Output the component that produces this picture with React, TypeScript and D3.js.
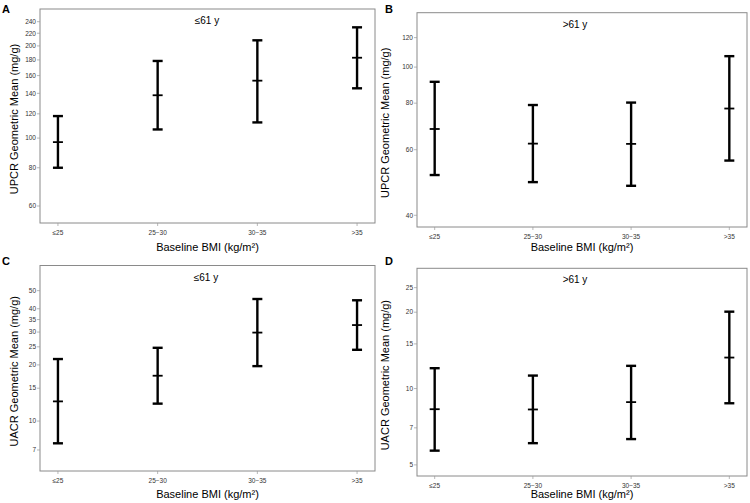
import React from "react";
import * as d3 from "d3";

const categories = ["≤25", "25−30", "30−35", ">35"];

// Panel A: UPCR, ≤61 y
const upcrYoungMean = [97, 138, 154, 183];
const upcrYoungLow = [80, 106.7, 112.5, 145.4];
const upcrYoungHigh = [118, 178.6, 208.6, 230];
const upcrYoungTicks = [60, 80, 100, 120, 140, 160, 180, 200, 220, 240];

// Panel B: UPCR, >61 y
const upcrOldMean = [68.2, 62.3, 62.2, 77.4];
const upcrOldLow = [51.3, 49.1, 48.0, 56.1];
const upcrOldHigh = [91.3, 79.1, 80.3, 107];
const upcrOldTicks = [40, 60, 80, 100, 120];

// Panel C: UACR, ≤61 y
const uacrYoungMean = [12.75, 17.5, 29.8, 32.7];
const uacrYoungLow = [7.6, 12.4, 19.7, 24.1];
const uacrYoungHigh = [21.5, 24.7, 45.1, 44.4];
const uacrYoungTicks = [7, 10, 15, 20, 25, 30, 35, 40, 50];

// Panel D: UACR, >61 y
const uacrOldMean = [8.29, 8.27, 8.84, 13.25];
const uacrOldLow = [5.69, 6.09, 6.32, 8.75];
const uacrOldHigh = [12.03, 11.25, 12.29, 20.1];
const uacrOldTicks = [5, 7, 10, 15, 20, 25];

const panelLabels = ["A", "B", "C", "D"];
const panelTitles = ["≤61 y", ">61 y", "≤61 y", ">61 y"];
const yTitles = [
  "UPCR Geometric Mean (mg/g)",
  "UPCR Geometric Mean (mg/g)",
  "UACR Geometric Mean (mg/g)",
  "UACR Geometric Mean (mg/g)",
];
const xTitle = "Baseline BMI (kg/m²)";

const FONT = "'Liberation Sans', Arial, Helvetica, sans-serif";

type PanelProps = {
  box: { x0: number; x1: number; y0: number; y1: number };
  domain: [number, number];
  ticks: number[];
  mean: number[];
  low: number[];
  high: number[];
  label: string;
  labelPos: [number, number];
  title: string;
  titleX: number;
  yTitle: string;
  yTitleX: number;
  xTitleY: number;
};

function Panel(p: PanelProps) {
  const { box } = p;
  const x = d3
    .scalePoint<string>()
    .domain(categories)
    .range([box.x0, box.x1])
    .padding(0.18);
  const y = d3.scaleLog().domain(p.domain).range([box.y1, box.y0]);
  const cap = 5;
  const cy = (box.y0 + box.y1) / 2;
  return (
    <g>
      <text
        x={p.labelPos[0]}
        y={p.labelPos[1]}
        fontFamily={FONT}
        fontWeight="bold"
        fontSize={11}
        fill="#000"
      >
        {p.label}
      </text>
      <rect
        x={box.x0}
        y={box.y0}
        width={box.x1 - box.x0}
        height={box.y1 - box.y0}
        fill="#fff"
        stroke="#8a8a8a"
        strokeWidth={1}
      />
      <text
        x={p.titleX}
        y={box.y0 + 15}
        textAnchor="middle"
        fontFamily={FONT}
        fontSize={10}
        fill="#000"
      >
        {p.title}
      </text>
      {p.ticks.map((t) => (
        <g key={t}>
          <line
            x1={box.x0 - 3}
            x2={box.x0}
            y1={y(t)}
            y2={y(t)}
            stroke="#999"
            strokeWidth={0.7}
          />
          <text
            x={box.x0 - 4}
            y={y(t)}
            dy="0.35em"
            textAnchor="end"
            fontFamily={FONT}
            fontSize={6.5}
            fill="#333"
          >
            {t}
          </text>
        </g>
      ))}
      {categories.map((c) => (
        <g key={c}>
          <line
            x1={x(c)}
            x2={x(c)}
            y1={box.y1}
            y2={box.y1 + 3}
            stroke="#999"
            strokeWidth={0.7}
          />
          <text
            x={x(c)}
            y={box.y1 + 12}
            textAnchor="middle"
            fontFamily={FONT}
            fontSize={6.5}
            fill="#333"
          >
            {c}
          </text>
        </g>
      ))}
      {categories.map((c, i) => {
        const cx = x(c) as number;
        return (
          <g key={"e" + c} stroke="#000" strokeWidth={2.4}>
            <line x1={cx} x2={cx} y1={y(p.low[i])} y2={y(p.high[i])} />
            <line x1={cx - cap} x2={cx + cap} y1={y(p.low[i])} y2={y(p.low[i])} />
            <line x1={cx - cap} x2={cx + cap} y1={y(p.high[i])} y2={y(p.high[i])} />
            <line
              x1={cx - cap}
              x2={cx + cap}
              y1={y(p.mean[i])}
              y2={y(p.mean[i])}
              strokeWidth={1.8}
            />
          </g>
        );
      })}
      <text
        x={(box.x0 + box.x1) / 2}
        y={p.xTitleY}
        textAnchor="middle"
        fontFamily={FONT}
        fontSize={11}
        fill="#000"
      >
        {xTitle}
      </text>
      <text
        transform={`translate(${p.yTitleX},${cy + 3}) rotate(-90)`}
        textAnchor="middle"
        fontFamily={FONT}
        fontSize={11}
        fill="#000"
      >
        {p.yTitle}
      </text>
    </g>
  );
}

export default function App() {
  return (
    <svg
      width={750}
      height={503}
      style={{ position: "absolute", left: 0, top: 0, background: "#fff" }}
    >
      <rect x={0} y={0} width={750} height={503} fill="#fff" />
      <Panel
        box={{ x0: 40, x1: 375, y0: 9, y1: 223 }}
        domain={[52.8, 264]}
        ticks={upcrYoungTicks}
        mean={upcrYoungMean}
        low={upcrYoungLow}
        high={upcrYoungHigh}
        label={panelLabels[0]}
        labelPos={[2, 13]}
        title={panelTitles[0]}
        titleX={207}
        yTitle={yTitles[0]}
        yTitleX={18}
        xTitleY={251}
      />
      <Panel
        box={{ x0: 417, x1: 747, y0: 12.7, y1: 227 }}
        domain={[37.2, 140]}
        ticks={upcrOldTicks}
        mean={upcrOldMean}
        low={upcrOldLow}
        high={upcrOldHigh}
        label={panelLabels[1]}
        labelPos={[385, 13]}
        title={panelTitles[1]}
        titleX={575}
        yTitle={yTitles[1]}
        yTitleX={389}
        xTitleY={251}
      />
      <Panel
        box={{ x0: 40, x1: 375, y0: 265.5, y1: 471 }}
        domain={[5.4, 68.2]}
        ticks={uacrYoungTicks}
        mean={uacrYoungMean}
        low={uacrYoungLow}
        high={uacrYoungHigh}
        label={panelLabels[2]}
        labelPos={[2, 265]}
        title={panelTitles[2]}
        titleX={206}
        yTitle={yTitles[2]}
        yTitleX={18}
        xTitleY={498}
      />
      <Panel
        box={{ x0: 417, x1: 747, y0: 268.3, y1: 476 }}
        domain={[4.52, 29.8]}
        ticks={uacrOldTicks}
        mean={uacrOldMean}
        low={uacrOldLow}
        high={uacrOldHigh}
        label={panelLabels[3]}
        labelPos={[385, 265]}
        title={panelTitles[3]}
        titleX={575}
        yTitle={yTitles[3]}
        yTitleX={389}
        xTitleY={498}
      />
    </svg>
  );
}
